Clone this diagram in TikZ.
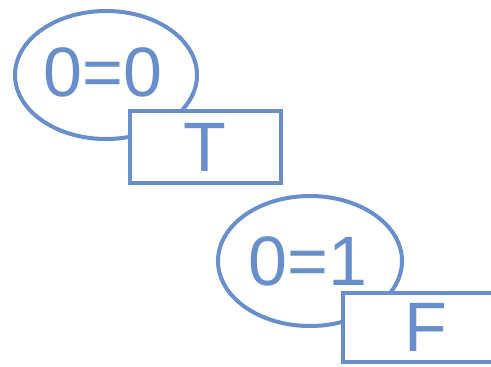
\documentclass[tikz,border=0pt]{standalone}
\usepackage{fontspec}
\setmainfont{Liberation Sans}
\usetikzlibrary{shapes.geometric}
\definecolor{lblue}{RGB}{104,142,204}
\tikzset{
  oval/.style={ellipse, draw=lblue, line width=4pt, inner sep=0pt},
  valbox/.style={rectangle, draw=lblue, line width=4pt, fill=white, inner sep=0pt},
  lbl/.style={text=lblue, font=\fontsize{70}{70}\selectfont, inner sep=0pt}
}
\begin{document}
\begin{tikzpicture}[x=1pt,y=-1pt]
\useasboundingbox (0,0) rectangle (491,367);
\clip (0,0) rectangle (491,367);
\node[oval, minimum width=182pt, minimum height=128pt] (e1) at (106,75) {};
\node[lbl] (t1) at (103,72) {0=0};
\node[valbox, minimum width=151pt, minimum height=72pt] (r1) at (205,147) {};
\node[lbl] (tT) at (205,147) {T};
\node[oval, minimum width=184pt, minimum height=130pt] (e2) at (310,261) {};
\node[lbl] (t2) at (308,261) {0=1};
\node[valbox, minimum width=160pt, minimum height=69pt] (r2) at (423,327) {};
\node[lbl] (tF) at (426,327) {F};
\end{tikzpicture}
\end{document}
